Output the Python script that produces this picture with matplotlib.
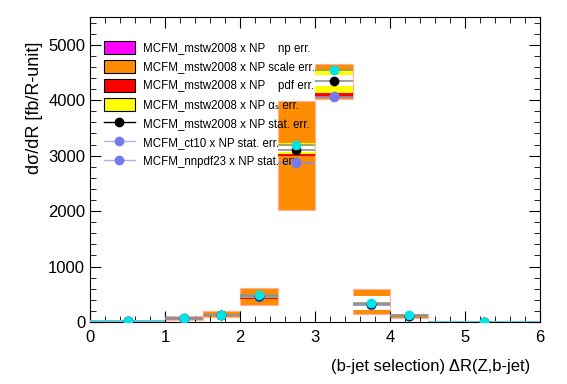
import numpy as np
import matplotlib.pyplot as plt
from matplotlib.patches import Rectangle, Patch
from matplotlib.lines import Line2D

plt.rcParams['font.family'] = ['Liberation Sans', 'DejaVu Sans']

# bin edges in dR(Z,b-jet)
edges = [0, 1, 1.5, 2, 2.5, 3, 3.5, 4, 4.5, 6]

# central values [fb/R-unit]
mstw = [20, 65, 130, 460, 3110, 4350, 330, 110, 5]
ct10 = [18, 62, 128, 455, 2880, 4070, 305, 106, 4]
nnpdf = [18, 60, 125, 450, 2870, 4050, 300, 105, 4]
extra = [15, 70, 135, 480, 3200, 4540, 350, 120, 3]

# uncertainty bands (low, high)
scale_lo = [8, 40, 90, 300, 2020, 4030, 144, 70, 0]
scale_hi = [30, 110, 190, 610, 3990, 4660, 595, 150, 10]
alphas_lo = [15, 55, 115, 430, 3020, 4130, 216, 95, 3]
alphas_hi = [25, 80, 150, 490, 3230, 4540, 470, 125, 7]
inner_lo = [17, 60, 122, 445, 3060, 4250, 216, 102, 4]
inner_hi = [23, 72, 140, 475, 3180, 4450, 470, 118, 6]
pdf_lo = [14, 50, 110, 420, 3000, 4050, 216, 90, 3]
pdf_hi = [16, 55, 115, 430, 3030, 4130, 216, 95, 3]
stat = [5, 10, 15, 30, 60, 60, 70, 15, 2]

lo = np.array(edges[:-1])
hi = np.array(edges[1:])
cen = (lo + hi) / 2

fig = plt.figure(figsize=(5.67, 3.84), dpi=100)
ax = fig.add_axes([90/567, 62/384, 450/567, 305/384])

for i in range(len(cen)):
    w = hi[i] - lo[i]
    ax.add_patch(Rectangle((lo[i], scale_lo[i]), w, scale_hi[i]-scale_lo[i],
                           facecolor='#ff8c00', edgecolor='#ffb0a0', lw=0.8, zorder=1))
    ax.add_patch(Rectangle((lo[i], alphas_lo[i]), w, alphas_hi[i]-alphas_lo[i],
                           facecolor='#ffff00', edgecolor='none', zorder=2))
    ax.add_patch(Rectangle((lo[i], inner_lo[i]), w, inner_hi[i]-inner_lo[i],
                           facecolor='white', edgecolor='none', zorder=3))
    ax.add_patch(Rectangle((lo[i], pdf_lo[i]), w, pdf_hi[i]-pdf_lo[i],
                           facecolor='#ff0000', edgecolor='none', zorder=4))

# histogram lines
ax.hlines(extra, lo, hi, color='#8fa070', lw=1.2, zorder=5)
ax.hlines(nnpdf, lo, hi, color='#9090c0', lw=1.2, zorder=5)
ax.hlines(mstw, lo, hi, color='#909090', lw=1.2, zorder=5)
ax.hlines(extra[:1] + extra[-1:], [lo[0], lo[-1]], [hi[0], hi[-1]], color='#5fc8e0', lw=1.4, zorder=6)

ax.errorbar(cen, nnpdf, yerr=stat, fmt='o', color='#7777ee', ms=6, zorder=7)
ax.errorbar(cen, ct10, yerr=stat, fmt='o', color='#7777ee', ms=6, zorder=7)
ax.errorbar(cen, mstw, yerr=stat, fmt='o', color='black', ms=6, zorder=8)
ax.errorbar(cen, extra, yerr=stat, fmt='o', color='#00e5e5', ms=6, zorder=9)

ax.set_xlim(0, 6)
ax.set_ylim(0, 5500)
ax.set_xticks(np.arange(0, 7, 1))
ax.set_xticks(np.arange(0, 6.01, 0.2), minor=True)
ax.set_yticks(np.arange(0, 5001, 1000))
ax.set_yticks(np.arange(0, 5501, 200), minor=True)
ax.tick_params(which='both', direction='in', top=True, right=True, labelsize=12)
ax.tick_params(which='major', length=8)
ax.tick_params(which='minor', length=4)
ax.tick_params(axis='x', pad=6)

ax.set_ylabel('d\u03c3/dR [fb/R-unit]', fontsize=13, loc='top')
ax.yaxis.set_label_coords(-0.105, 0.918)
ax.set_xlabel('(b-jet selection) \u0394R(Z,b-jet)', fontsize=12, loc='right')
ax.xaxis.set_label_coords(0.978, -0.12)

handles = [
    Patch(facecolor='#ff00ff', edgecolor='black', lw=0.8),
    Patch(facecolor='#ff8c00', edgecolor='black', lw=0.8),
    Patch(facecolor='#ff0000', edgecolor='black', lw=0.8),
    Patch(facecolor='#ffff00', edgecolor='black', lw=0.8),
    Line2D([], [], color='black', marker='o', ms=6, lw=1),
    Line2D([], [], color='#aab0f0', marker='o', mfc='#7777ee', mec='#7777ee', ms=6, lw=1),
    Line2D([], [], color='#aab0f0', marker='o', mfc='#7777ee', mec='#7777ee', ms=6, lw=1),
]
labels = [
    'MCFM_mstw2008 x NP    np err.',
    'MCFM_mstw2008 x NP scale err.',
    'MCFM_mstw2008 x NP    pdf err.',
    'MCFM_mstw2008 x NP \u03b1\u209b err.',
    'MCFM_mstw2008 x NP stat. err.',
    'MCFM_ct10 x NP stat. err.',
    'MCFM_nnpdf23 x NP stat. err.',
]
ax.legend(handles, labels, loc='upper left', bbox_to_anchor=(0.02, 0.935),
          frameon=False, fontsize=8.3, handlelength=2.7, handleheight=1.3,
          labelspacing=0.5, handletextpad=0.7, borderaxespad=0)

fig.savefig('out.png', dpi=100)
